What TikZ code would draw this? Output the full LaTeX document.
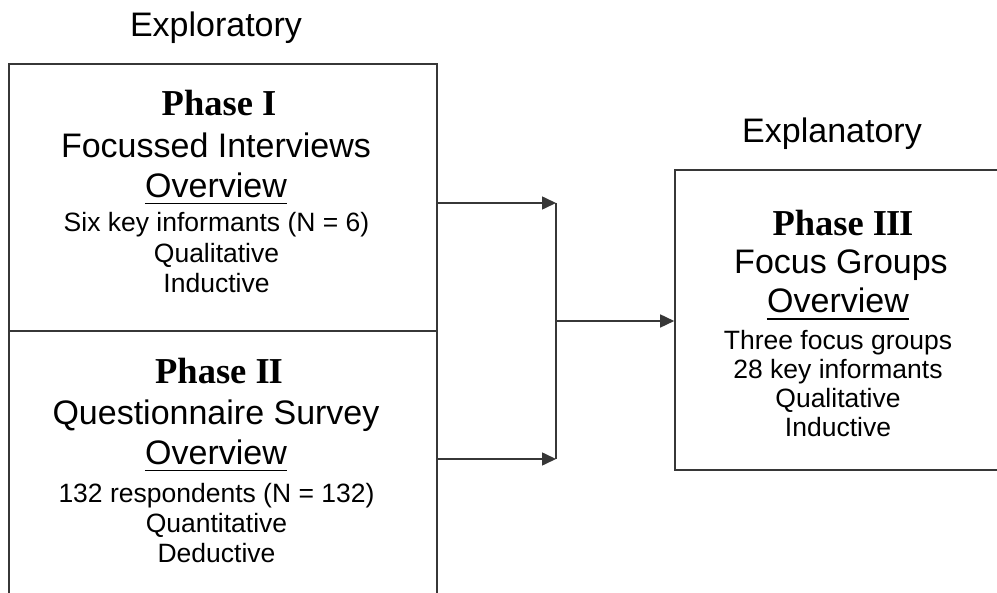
\documentclass[tikz,border=0pt]{standalone}
\usepackage{fontspec}
\setmainfont{Liberation Sans}
\newfontfamily\phasefont{Liberation Serif}
\usetikzlibrary{arrows.meta}
\definecolor{linegray}{RGB}{55,55,55}
\begin{document}
\begin{tikzpicture}[x=1pt,y=-1pt,
  box/.style={draw=linegray, line width=1.6pt, inner sep=0pt},
  big/.style={anchor=base, inner sep=0pt, font=\fontsize{34}{36}\selectfont},
  small/.style={anchor=base, inner sep=0pt, font=\fontsize{26.5}{30}\selectfont},
  phase/.style={anchor=base, inner sep=0pt, font=\phasefont\bfseries\fontsize{36.5}{40}\selectfont},
  uline/.style={draw=black, line width=1.5pt},
  arr/.style={draw=linegray, line width=1.6pt, -{Triangle[length=14pt,width=13pt]}},
  conn/.style={draw=linegray, line width=1.6pt}]
\useasboundingbox (0,0) rectangle (997,593);
\clip (0,0) rectangle (997,593);
% boxes
\node[box, minimum width=428pt, minimum height=267pt] (p1) at (223,197.5) {};
\node[box, minimum width=428pt, minimum height=267pt] (p2) at (223,464.5) {};
\node[box, minimum width=326pt, minimum height=300pt] (p3) at (838,320) {};
% headings
\node[big] (hexp) at (216,37) {Exploratory};
\node[big] (hexn) at (832,143) {Explanatory};
% phase I
\node[phase] (a1) at (219,116) {Phase I};
\node[big] (a2) at (216,158) {Focussed Interviews};
\node[big] (a3) at (216,198) {Overview};
\node[small] (a4) at (216.5,232) {Six key informants (N = 6)};
\node[small] (a5) at (216.5,263) {Qualitative};
\node[small] (a6) at (216.5,293) {Inductive};
% phase II
\node[phase] (b1) at (219,384) {Phase I\kern-0.03em I};
\node[big] (b2) at (216,425) {Questionnaire Survey};
\node[big] (b3) at (216,465) {Overview};
\node[small] (b4) at (216.5,503) {132 respondents (N = 132)};
\node[small] (b5) at (216.5,533) {Quantitative};
\node[small] (b6) at (216.5,563) {Deductive};
% phase III
\node[phase] (c1) at (843,236) {Phase I\kern-0.03em I\kern-0.03em I};
\node[big] (c2) at (841,274) {Focus Groups};
\node[big] (c3) at (838,313) {Overview};
\node[small] (c4) at (838,350) {Three focus groups};
\node[small] (c5) at (838,379) {28 key informants};
\node[small] (c6) at (838,408) {Qualitative};
\node[small] (c7) at (838,437) {Inductive};
% underlines of "Overview"
\draw[uline] ([yshift=-5.5pt]a3.base west) -- ([yshift=-5.5pt]a3.base east);
\draw[uline] ([yshift=-5.5pt]b3.base west) -- ([yshift=-5.5pt]b3.base east);
\draw[uline] ([yshift=-6pt]c3.base west) -- ([yshift=-6pt]c3.base east);
% connectors
\coordinate (jt) at (556,203);
\coordinate (jb) at (556,459);
\coordinate (jm) at (556,321);
\draw[arr] (p1.east |- jt) -- (jt);
\draw[arr] (p2.east |- jb) -- (jb);
\draw[conn] (jt) -- (jb);
\draw[arr] (jm) -- (p3.west |- jm);
\end{tikzpicture}
\end{document}
